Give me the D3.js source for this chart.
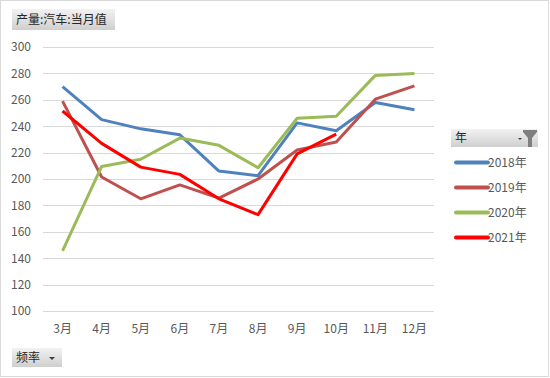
<!DOCTYPE html>
<html>
<head>
<meta charset="utf-8">
<script src="https://cdn.jsdelivr.net/npm/d3@7"></script>
<style>
body { margin: 0; background: #fff; }
text { font-family: "Noto Sans CJK SC", "Liberation Sans", sans-serif; }
</style>
</head>
<body>
<svg id="chart"></svg>
<script>
const months = ['3月', '4月', '5月', '6月', '7月', '8月', '9月', '10月', '11月', '12月'];
const seriesNames = ['2018年', '2019年', '2020年', '2021年'];
const seriesColors = ['#4F81BD', '#C0504D', '#9BBB59', '#FF0000'];
const v2018 = [270, 245, 238, 233.5, 206, 202.5, 242.5, 236.5, 258, 252.5];
const v2019 = [259, 201.5, 185, 195.5, 185.5, 200, 222, 228, 260.5, 270.5];
const v2020 = [145.5, 209.5, 215, 231, 225.5, 208.5, 246, 247.5, 278.5, 280];
const v2021 = [251.5, 227, 209, 203.5, 185, 173, 219, 234, null, null];
const yTicks = [100, 120, 140, 160, 180, 200, 220, 240, 260, 280, 300];

const width = 550, height = 378;
const margin = { top: 47, right: 116, bottom: 67, left: 43 };
const svg = d3.select('#chart').attr('width', width).attr('height', height);

// outer frame
svg.append('rect').attr('x', 0.5).attr('y', 0.5).attr('width', width - 2).attr('height', height - 2)
    .attr('fill', '#fff').attr('stroke', '#d9d9d9');

const plotW = width - margin.left - margin.right;
const plotH = height - margin.top - margin.bottom;
const x = d3.scaleBand().domain(months).range([0, plotW]);
const y = d3.scaleLinear().domain([100, 300]).range([plotH, 0]);
const chart = svg.append('g').attr('transform', `translate(${margin.left},${margin.top})`);

// gridlines
chart.append('g').selectAll('line').data(yTicks).join('line')
    .attr('x1', 0).attr('x2', plotW)
    .attr('y1', d => Math.round(y(d)) + 0.5).attr('y2', d => Math.round(y(d)) + 0.5)
    .attr('stroke', '#d9d9d9').attr('stroke-width', 1);

const yAxis = d3.axisLeft(y).tickValues(yTicks).tickSize(0).tickPadding(12);
chart.append('g').call(yAxis).call(g => g.select('.domain').remove())
    .selectAll('text').attr('font-size', 12).attr('fill', '#595959');

const xAxis = d3.axisBottom(x).tickSize(0).tickPadding(13);
chart.append('g').attr('transform', `translate(0,${plotH})`).call(xAxis)
    .call(g => g.select('.domain').remove())
    .selectAll('text').attr('font-size', 12).attr('fill', '#595959');

const allSeries = [v2018, v2019, v2020, v2021];
const line = d3.line()
    .defined(d => d != null)
    .x((d, i) => x(months[i]) + x.bandwidth() / 2)
    .y(d => y(d));
chart.append('g').selectAll('path').data(allSeries).join('path')
    .attr('d', line).attr('fill', 'none')
    .attr('stroke', (d, i) => seriesColors[i]).attr('stroke-width', 3)
    .attr('stroke-linejoin', 'round');

// buttons
const grad = svg.append('defs').append('linearGradient').attr('id', 'btn')
    .attr('x1', 0).attr('y1', 0).attr('x2', 0).attr('y2', 1);
grad.append('stop').attr('offset', '0%').attr('stop-color', '#f2f2f2');
grad.append('stop').attr('offset', '100%').attr('stop-color', '#cfcfcf');

function button(bx, by, bw, bh, label) {
    const g = svg.append('g').attr('transform', `translate(${bx},${by})`);
    g.append('rect').attr('width', bw).attr('height', bh).attr('fill', 'url(#btn)');
    g.append('text').attr('x', 4).attr('y', bh / 2).attr('dy', '0.35em')
        .attr('font-size', 12).attr('fill', '#262626').text(label);
    return g;
}
button(12, 9, 103, 21, '产量:汽车:当月值');
const freq = button(12, 348, 50, 19, '频率');
freq.append('path').attr('d', 'M37,9 l6,0 l-3,3 z').attr('fill', '#404040');

// legend
const leg = button(451, 129, 87, 18, '年');
leg.append('path').attr('d', 'M67,9 l4,0 l-2,2 z').attr('fill', '#404040');
leg.append('path').attr('d', 'M72,1 l14,0 l0,2 l-5,6 l0,9 l-4,0 l0,-9 l-5,-6 z').attr('fill', '#7f7f7f');

const legItems = svg.append('g').selectAll('g').data(seriesNames).join('g')
    .attr('transform', (d, i) => `translate(456,${162.5 + i * 25})`);
legItems.append('line').attr('x1', 0).attr('x2', 32)
    .attr('stroke', (d, i) => seriesColors[i]).attr('stroke-width', 4).attr('stroke-linecap', 'round');
legItems.append('text').attr('x', 32).attr('dy', '0.35em')
    .attr('font-size', 12).attr('fill', '#595959').text(d => d);
</script>
</body>
</html>
